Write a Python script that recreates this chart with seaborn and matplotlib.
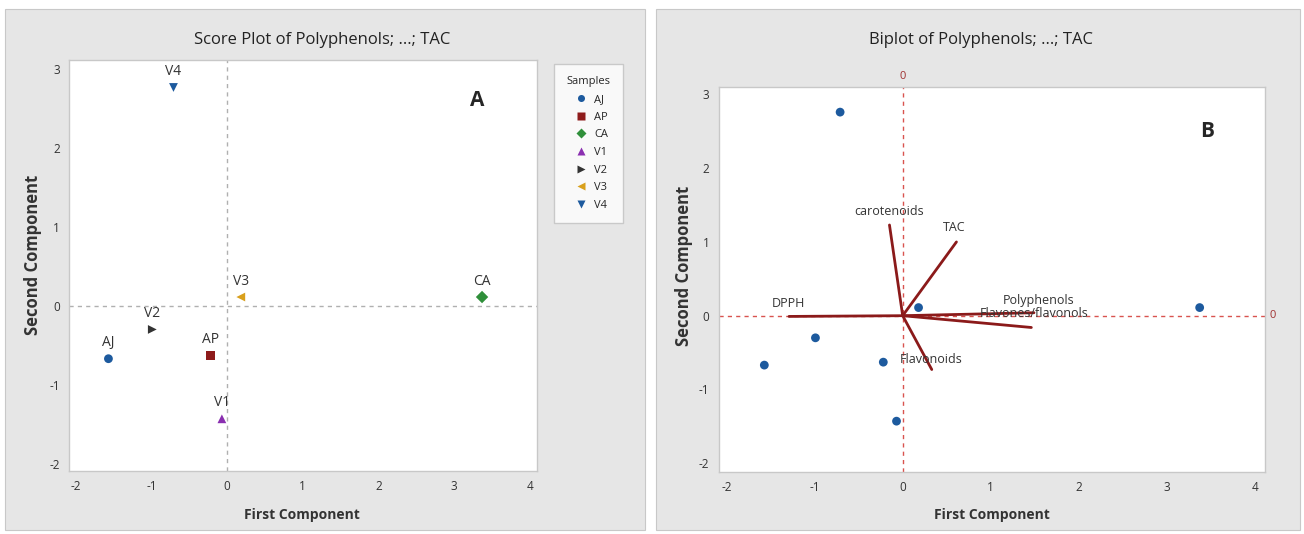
import seaborn as sns
import matplotlib.pyplot as plt
import pandas as pd
from matplotlib.patches import Rectangle

# Scores of the samples on the first two components
samples = ['AJ', 'AP', 'CA', 'V1', 'V2', 'V3', 'V4']
pc1 = [-1.57, -0.22, 3.37, -0.07, -0.99, 0.18, -0.71]
pc2 = [-0.67, -0.63, 0.11, -1.43, -0.30, 0.11, 2.76]

# Loadings (vectors) of the variables
variables = ['carotenoids', 'TAC', 'DPPH', 'Polyphenols', 'Flavones/flavonols', 'Flavonoids']
load1 = [-0.15, 0.61, -1.29, 1.49, 1.46, 0.33]
load2 = [1.23, 1.00, -0.01, 0.04, -0.16, -0.73]

sample_colors = ['#1d5a9e', '#8e1b1b', '#2f8f3a', '#8a2fb0', '#333333', '#d9a01c', '#1d5a9e']
sample_markers = ['o', 's', 'D', '^', '>', '<', 'v']

scores = pd.DataFrame({'PC1': pc1, 'PC2': pc2, 'Samples': samples})

sns.set_style('white')
plt.rcParams['font.family'] = ['Open Sans', 'DejaVu Sans']
plt.rcParams['axes.unicode_minus'] = False

fig = plt.figure(figsize=(13.04, 5.34), dpi=100)
fig.patch.set_facecolor('white')

# grey panel backgrounds like the Minitab graph windows
for x0, w in [(0.004, 0.491), (0.503, 0.494)]:
    fig.patches.append(Rectangle((x0, 0.008), w, 0.975, transform=fig.transFigure,
                                 facecolor='#e6e6e6', edgecolor='#c8c8c8', lw=0.8, zorder=-10))

ax1 = fig.add_axes([0.053, 0.118, 0.359, 0.770])
ax2 = fig.add_axes([0.551, 0.116, 0.419, 0.721])

# ---- Panel A: score plot ----
ax1.axhline(0, color='#b0b0b0', ls=(0, (3, 3)), lw=1, zorder=1)
ax1.axvline(0, color='#b0b0b0', ls=(0, (3, 3)), lw=1, zorder=1)
sns.scatterplot(data=scores, x='PC1', y='PC2', hue='Samples', style='Samples',
                palette=sample_colors, markers=sample_markers, s=40,
                edgecolor='none', ax=ax1, zorder=3)
for name, x, y in zip(samples, pc1, pc2):
    ax1.annotate(name, (x, y), xytext=(0, 6), textcoords='offset points',
                 ha='center', va='bottom', fontsize=10, color='#333333')
ax1.set_xlim(-2.09, 4.1)
ax1.set_ylim(-2.09, 3.11)
ax1.text(3.3, 2.6, 'A', fontsize=15, fontweight='bold', ha='center', va='center')
leg = ax1.legend(title='Samples', loc='upper left', bbox_to_anchor=(1.032, 0.995),
                 frameon=True, fontsize=8, title_fontsize=8, handletextpad=0.2,
                 markerscale=0.8, borderpad=0.8, labelspacing=0.6)
leg.get_frame().set_edgecolor('#c0c0c0')
leg.get_frame().set_boxstyle('square')
fig.text(0.247, 0.925, 'Score Plot of Polyphenols; ...; TAC', fontsize=12,
         ha='center', va='center', color='#222222')

# ---- Panel B: biplot ----
ax2.axhline(0, color='#d9534f', ls=(0, (3, 3)), lw=1, zorder=1)
ax2.axvline(0, color='#d9534f', ls=(0, (3, 3)), lw=1, zorder=1)
sns.scatterplot(x=pc1, y=pc2, color='#1d5a9e', marker='o', s=40,
                edgecolor='none', ax=ax2, zorder=3)
for x, y in zip(load1, load2):
    ax2.plot([0, x], [0, y], color='#8b1a1a', lw=2, zorder=2)
label_pos = {'carotenoids': (-0.16, 1.41, 'center'), 'TAC': (0.59, 1.20, 'center'),
             'DPPH': (-1.30, 0.17, 'center'), 'Polyphenols': (1.13, 0.20, 'left'),
             'Flavones/flavonols': (0.87, 0.03, 'left'), 'Flavonoids': (-0.03, -0.60, 'left')}
for v in variables:
    tx, ty, ha = label_pos[v]
    ax2.text(tx, ty, v, fontsize=9, ha=ha, va='center', color='#333333', zorder=4)
ax2.set_xlim(-2.09, 4.11)
ax2.set_ylim(-2.12, 3.1)
ax2.text(0, 1.012, '0', transform=ax2.get_xaxis_transform(), ha='center', va='bottom',
         fontsize=8, color='#a03030')
ax2.text(1.008, 0, '0', transform=ax2.get_yaxis_transform(), ha='left', va='center',
         fontsize=8, color='#a03030')
ax2.text(3.45, 2.5, 'B', fontsize=15, fontweight='bold', ha='center', va='center')
fig.text(0.752, 0.925, 'Biplot of Polyphenols; ...; TAC', fontsize=12,
         ha='center', va='center', color='#222222')

for ax, xl, yl in [(ax1, (0.498, -0.09), (-0.058, 0.525)),
                   (ax2, (0.5, -0.094), (-0.046, 0.535))]:
    ax.set_facecolor('white')
    ax.set_xticks(range(-2, 5))
    ax.set_yticks(range(-2, 4))
    ax.tick_params(axis='both', labelsize=8.5, length=3, width=0.8, color='#b0b0b0',
                   labelcolor='#333333', direction='out')
    ax.set_xlabel('First Component', fontsize=10, fontweight='bold', color='#333333')
    ax.set_ylabel('Second Component', fontsize=12, fontweight='bold', color='#333333')
    ax.xaxis.set_label_coords(*xl)
    ax.yaxis.set_label_coords(*yl)
    for s in ax.spines.values():
        s.set_color('#c8c8c8')
        s.set_linewidth(1)

plt.savefig('out.png', dpi=100)
